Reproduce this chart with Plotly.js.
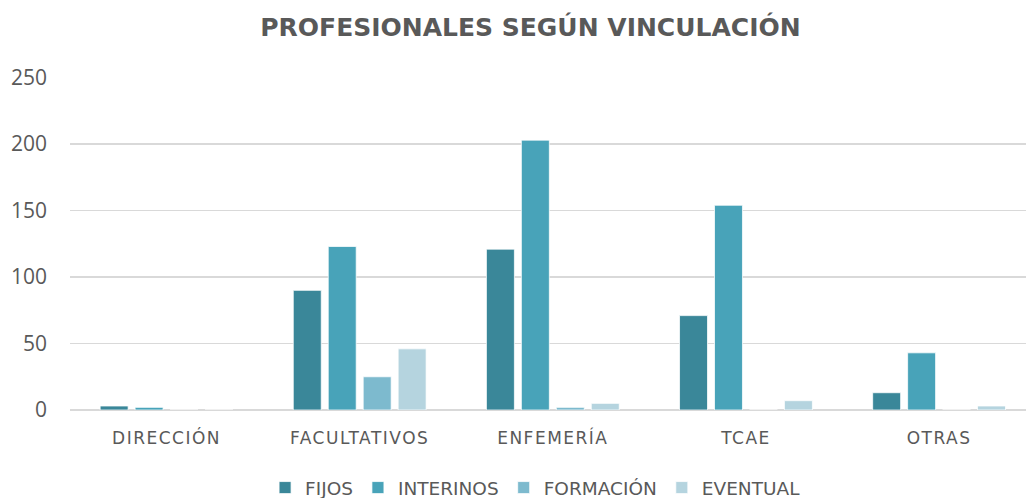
<!DOCTYPE html>
<html>
<head>
<meta charset="utf-8">
<script src="https://cdn.plot.ly/plotly-3.0.1.min.js"></script>
<style>
html,body{margin:0;padding:0;background:#fff;}
#chart{width:1026px;height:498px;}
#chart .xtick text{letter-spacing:1.5px;}
</style>
</head>
<body>
<div id="chart"></div>
<script>
const categories = ["DIRECCIÓN", "FACULTATIVOS", "ENFEMERÍA", "TCAE", "OTRAS"];
const seriesNames = ["FIJOS", "INTERINOS", "FORMACIÓN", "EVENTUAL"];
const fijos = [3, 90, 121, 71, 13];
const interinos = [2, 123, 203, 154, 43];
const formacion = [0, 25, 2, 0, 0];
const eventual = [0, 46, 5, 7, 3];
const colors = ["#3a8799", "#48a3b9", "#7dbace", "#b5d4df"];

const values = [fijos, interinos, formacion, eventual];
const traces = values.map((v, i) => ({
  type: "bar",
  name: seriesNames[i],
  x: categories,
  y: v,
  marker: {color: colors[i], line: {color: "#ffffff", width: 0.75}},
  hoverinfo: "x+y+name"
}));

const layout = {
  width: 1026, height: 498,
  paper_bgcolor: "#ffffff", plot_bgcolor: "#ffffff",
  margin: {l: 70, r: 0, t: 77, b: 87.5, autoexpand: false},
  barmode: "group",
  bargap: 0.276,
  bargroupgap: 0.2,
  title: {
    text: "<b>PROFESIONALES SEGÚN VINCULACIÓN</b>",
    font: {family: "DejaVu Sans", size: 25, color: "#595959"},
    xref: "container", x: 0.517, xanchor: "center",
    yref: "container", y: 0.946, yanchor: "middle"
  },
  xaxis: {
    type: "category",
    range: [-0.5, 4.45],
    showgrid: false,
    showline: false,
    zeroline: false,
    ticks: "",
    tickangle: 0,
    ticklabelstandoff: 16,
    tickfont: {family: "DejaVu Sans", size: 17, color: "#595959"},
    automargin: false
  },
  yaxis: {
    range: [0, 250.5],
    tickvals: [0, 50, 100, 150, 200, 250],
    ticktext: ["0", "50", "100", "150", "200", "250"],
    showgrid: true,
    gridcolor: "#d9d9d9",
    gridwidth: 1.5,
    zeroline: true,
    zerolinecolor: "#d9d9d9",
    zerolinewidth: 2,
    showline: false,
    ticks: "",
    ticklabelstandoff: 22,
    tickfont: {family: "Open Sans", size: 21, color: "#595959"},
    automargin: false
  },
  showlegend: true,
  legend: {
    orientation: "h",
    xref: "container", x: 0.522, xanchor: "center",
    yref: "container", y: 0.02, yanchor: "middle",
    font: {family: "DejaVu Sans", size: 18.5, color: "#595959"},
    itemwidth: 30,
    tracegroupgap: 0,
    bgcolor: "rgba(0,0,0,0)"
  }
};

Plotly.newPlot("chart", traces, layout, {displayModeBar: false, staticPlot: true});
</script>
</body>
</html>
